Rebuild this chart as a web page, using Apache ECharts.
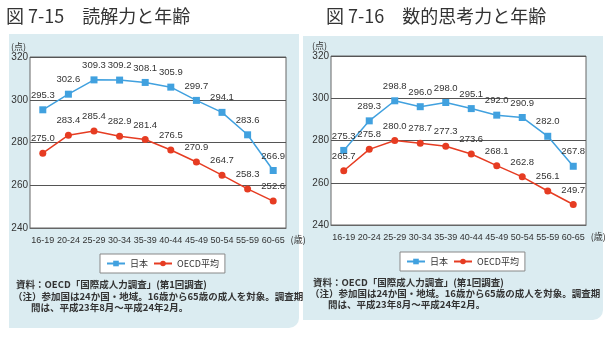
<!DOCTYPE html>
<html><head><meta charset="utf-8">
<script src="https://cdn.jsdelivr.net/npm/echarts@6/dist/echarts.min.js"></script>
<style>html,body{margin:0;padding:0;background:#fff}#c{width:612px;height:337px}</style>
</head><body><div id="c"></div>
<script>
const categories = ['16-19','20-24','25-29','30-34','35-39','40-44','45-49','50-54','55-59','60-65'];
const readingJapan = [295.3,302.6,309.3,309.2,308.1,305.9,299.7,294.1,283.6,266.9];
const readingOECD  = [275.0,283.4,285.4,282.9,281.4,276.5,270.9,264.7,258.3,252.6];
const numeracyJapan = [275.3,289.3,298.8,296.0,298.0,295.1,292.0,290.9,282.0,267.8];
const numeracyOECD  = [265.7,275.8,280.0,278.7,277.3,273.6,268.1,262.8,256.1,249.7];
const yTicks = {min:240, max:320, interval:20};

const BLUE = '#41a1df', RED = '#e63c22', BG = '#dbecf1';
const font = 'Liberation Sans, Arial, sans-serif';
const jp = '"Noto Sans CJK JP", sans-serif';

function xAxis(gi){
  return {type:'category', gridIndex:gi, data:categories, boundaryGap:true,
    axisLine:{show:true, lineStyle:{color:'#666'}}, axisTick:{show:false},
    axisLabel:{interval:0, fontSize:9, color:'#333', fontFamily:font, margin:8},
    name:'(歳)', nameLocation:'end', nameGap:-1,
    nameTextStyle:{fontSize:9, color:'#333', fontFamily:jp, verticalAlign:'top', padding:[7,0,0,0]}};
}
function yAxis(gi){
  return {type:'value', gridIndex:gi, min:yTicks.min, max:yTicks.max, interval:yTicks.interval,
    axisLine:{show:false}, axisTick:{show:false},
    axisLabel:{fontSize:10, color:'#333', fontFamily:font, margin:2},
    splitLine:{show:true, lineStyle:{color:'#555', width:1}},
    name:'(点)', nameLocation:'end', nameGap:6,
    nameTextStyle:{fontSize:9, color:'#333', fontFamily:jp, align:'right', padding:[0,4,0,0]}};
}
function lbl(){
  return {show:true, position:'top', distance:6, fontSize:9.5, color:'#333', fontFamily:font,
    formatter:p=>p.value.toFixed(1)};
}
function line(name, data, gi, color, symbol){
  return {name, type:'line', xAxisIndex:gi, yAxisIndex:gi, data, symbol, symbolSize:7,
    lineStyle:{color, width:1.5}, itemStyle:{color}, label:lbl(),
    labelLayout:{moveOverlap:false, hideOverlap:false}, z:3};
}
function legend(left, top){
  return {data:['日本','OECD平均'], left, top, orient:'horizontal', itemWidth:18, itemHeight:7, itemGap:5,
    backgroundColor:'#fff', borderColor:'#888', borderWidth:1, padding:[5,6,5,6],
    textStyle:{fontSize:9, color:'#333', fontFamily:jp}};
}
function notes(x, y, dy){
  const f = 'bold 9.5px '+jp;
  return [
    {type:'text', left:x, top:y, style:{text:'資料：OECD「国際成人力調査」(第1回調査)', font:f, fill:'#333'}},
    {type:'text', left:x-3, top:y+dy, style:{text:'（注）参加国は24か国・地域。16歳から65歳の成人を対象。調査期', font:f, fill:'#333'}},
    {type:'text', left:x+15, top:y+2*dy, style:{text:'間は、平成23年8月～平成24年2月。', font:f, fill:'#333'}}
  ];
}

const chart = echarts.init(document.getElementById('c'), null, {renderer:'canvas'});
chart.setOption({
  animation:false,
  backgroundColor:'#fff',
  graphic:[
    {type:'rect', shape:{x:9, y:34, width:290, height:294, r:[0,0,10,0]}, style:{fill:BG}, z:-10},
    {type:'rect', shape:{x:303, y:36, width:300, height:284, r:[0,0,10,0]}, style:{fill:BG}, z:-10},
    {type:'text', left:6, top:7, style:{text:'図 7-15　読解力と年齢', font:'18px '+jp, fill:'#333'}},
    {type:'text', left:326, top:7, style:{text:'図 7-16　数的思考力と年齢', font:'18px '+jp, fill:'#333'}},
    ...notes(16, 280, 11.5),
    ...notes(313, 278, 11)
  ],
  grid:[
    {left:30, right:326, top:57, bottom:109, show:true, backgroundColor:'#fff', borderColor:'#666', borderWidth:1, containLabel:false},
    {left:331, right:26, top:56, bottom:112, show:true, backgroundColor:'#fff', borderColor:'#666', borderWidth:1, containLabel:false}
  ],
  xAxis:[xAxis(0), xAxis(1)],
  yAxis:[yAxis(0), yAxis(1)],
  legend:[legend(100, 254), legend(400, 252)],
  series:[
    line('日本', readingJapan, 0, BLUE, 'rect'),
    line('OECD平均', readingOECD, 0, RED, 'circle'),
    line('日本', numeracyJapan, 1, BLUE, 'rect'),
    line('OECD平均', numeracyOECD, 1, RED, 'circle')
  ]
});
</script></body></html>
